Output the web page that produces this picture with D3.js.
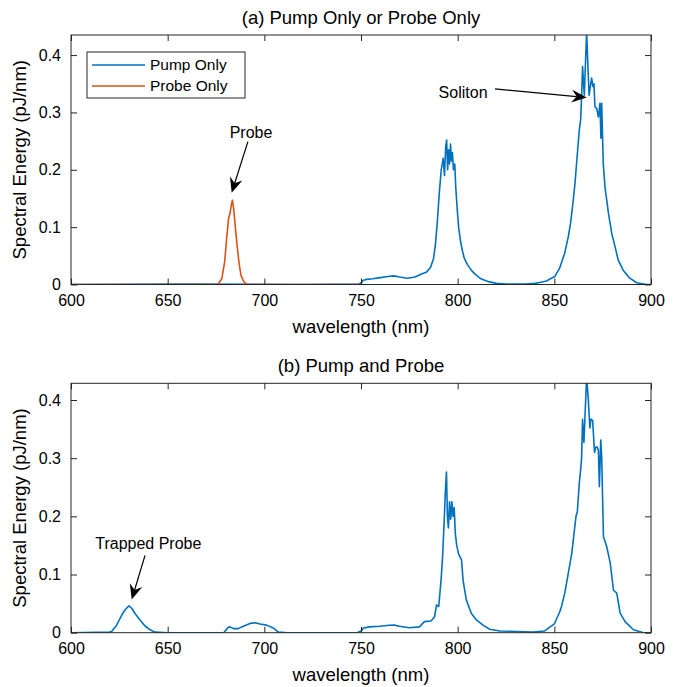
<!DOCTYPE html>
<html>
<head>
<meta charset="utf-8">
<script src="https://cdn.jsdelivr.net/npm/d3@7"></script>
<style>
  body { margin: 0; background: #fff; }
  svg text { font-family: "Liberation Sans", Arial, sans-serif; fill: #000; }
</style>
</head>
<body>
<div id="chart"></div>
<script>
const width = 682;
const height = 687;

// Axis ticks
const wavelengthTicks = [600, 650, 700, 750, 800, 850, 900];
const energyTicks = [0, 0.1, 0.2, 0.3, 0.4];

// (a) Pump only (blue)
const pumpOnlyWl = [600, 660, 720, 749, 750.5, 751, 753, 756, 760, 764, 767, 770, 774, 778, 781, 784, 786, 787.5, 788.5, 789.5,
  790.5, 791.5, 792.5, 793.2, 793.8, 794.3, 794.8, 795.3, 795.8, 796.3, 796.8, 797.3, 797.8, 798.5, 799, 799.8, 800.5,
  801.5, 802.5, 803.5, 805, 807, 809, 812, 816, 820, 825, 835, 840, 843, 846, 848, 850.3, 852.8, 855.4, 857.2, 858.4,
  859.8, 860.7, 861.5, 862.9, 863.6, 864.1, 864.6, 865.5, 866.7, 867.5, 868, 868.4, 869.3, 870, 870.5, 871, 871.9,
  872.8, 873.6, 874.1, 874.5, 875.3, 876.2, 877.1, 878, 879.7, 881.4, 883, 885.6, 889, 892.6, 897.8, 900];
const pumpOnlyE = [0, 0.001, 0, 0.001, 0.004, 0.007, 0.009, 0.01, 0.012, 0.014, 0.015, 0.013, 0.011, 0.013, 0.018, 0.022, 0.03, 0.045, 0.07, 0.11,
  0.16, 0.2, 0.22, 0.19, 0.24, 0.252, 0.2, 0.235, 0.21, 0.245, 0.215, 0.23, 0.2, 0.21, 0.17, 0.13, 0.1,
  0.075, 0.058, 0.045, 0.035, 0.025, 0.018, 0.01, 0.005, 0.002, 0.001, 0.001, 0.002, 0.004, 0.006, 0.01, 0.014, 0.029, 0.055, 0.083, 0.107,
  0.147, 0.177, 0.211, 0.269, 0.287, 0.327, 0.38, 0.33, 0.44, 0.37, 0.33, 0.34, 0.36, 0.345, 0.35, 0.31, 0.307,
  0.292, 0.316, 0.255, 0.316, 0.211, 0.17, 0.147, 0.124, 0.089, 0.066, 0.043, 0.025, 0.011, 0.003, 0, 0];

// (a) Probe only (orange)
const probeOnlyWl = [600, 676, 678, 679.5, 680.5, 681.5, 682.3, 683, 683.5, 684.2, 685, 686, 687, 688, 689.5, 691, 750];
const probeOnlyE = [0, 0, 0.01, 0.04, 0.08, 0.115, 0.125, 0.14, 0.147, 0.13, 0.1, 0.065, 0.035, 0.015, 0.004, 0, 0];

// (b) Pump and probe (blue)
const pumpProbeWl = [600, 620, 621, 623.6, 626.2, 627.9, 629, 630, 631.4, 633.1, 635.7, 638.3, 640.9, 643.4, 650, 679, 680,
  681.2, 682.2, 684, 686.5, 689.1, 692.6, 695.2, 697.8, 701.2, 704.7, 707.3, 712, 748, 750.5, 751, 754.3, 759.5, 764.7,
  767.2, 769.8, 775, 780.2, 782.8, 786.2, 788, 789.1, 790.2, 791.4, 792.2, 793, 793.6, 794.2, 794.7, 795.2, 795.8, 796.4,
  797, 797.6, 798.2, 798.8, 799.5, 800.5, 802, 802.8, 804.5, 807.1, 809.7, 813.1, 816.6, 821.8, 830.5, 839, 845, 850,
  852.8, 853.7, 855.4, 857.2, 859, 860.2, 861.2, 861.9, 862.9, 863.6, 864.1, 864.6, 865.3, 865.8, 866.7, 867.5, 868.4,
  868.9, 869.8, 870.8, 871.5, 872.2, 872.8, 873.3, 874, 874.5, 875.4, 877.1, 878.9, 880.6, 882.3, 884, 886.6, 890.9, 896.2, 900];
const pumpProbeE = [0, 0.001, 0.002, 0.013, 0.03, 0.039, 0.043, 0.046, 0.042, 0.033, 0.022, 0.0115, 0.005, 0.001, 0, 0, 0.004,
  0.009, 0.01, 0.007, 0.007, 0.011, 0.016, 0.017, 0.015, 0.013, 0.008, 0.001, 0, 0, 0.004, 0.0075, 0.01, 0.011, 0.0127,
  0.013, 0.011, 0.0086, 0.01, 0.019, 0.02, 0.027, 0.048, 0.045, 0.09, 0.13, 0.19, 0.24, 0.276, 0.2, 0.18, 0.225, 0.195,
  0.225, 0.2, 0.215, 0.17, 0.15, 0.135, 0.125, 0.09, 0.056, 0.033, 0.022, 0.013, 0.006, 0.003, 0.002, 0.001, 0.003, 0.015,
  0.036, 0.045, 0.068, 0.102, 0.136, 0.171, 0.2, 0.208, 0.257, 0.28, 0.3, 0.367, 0.327, 0.367, 0.44, 0.404, 0.352,
  0.367, 0.365, 0.31, 0.319, 0.319, 0.313, 0.251, 0.331, 0.302, 0.165, 0.148, 0.12, 0.073, 0.068, 0.034, 0.019, 0.005, 0, 0];

const blue = "#0072BD";
const orange = "#D95319";

const svg = d3.select("#chart")
  .append("svg")
  .attr("width", width)
  .attr("height", height);

function drawPanel(cfg) {
  const x = d3.scaleLinear().domain([600, 900]).range([cfg.left, cfg.right]);
  const y = d3.scaleLinear().domain([0, cfg.ymax]).range([cfg.bottom, cfg.top]);
  const g = svg.append("g");

  const clipId = "clip" + cfg.id;
  g.append("clipPath").attr("id", clipId)
    .append("rect")
    .attr("x", cfg.left).attr("y", cfg.top)
    .attr("width", cfg.right - cfg.left).attr("height", cfg.bottom - cfg.top);

  const line = d3.line().x(d => x(d[0])).y(d => y(d[1]));
  const plot = g.append("g").attr("clip-path", `url(#${clipId})`);
  cfg.series.forEach(s => {
    plot.append("path")
      .datum(s.wl.map((w, i) => [w, s.e[i]]))
      .attr("d", line)
      .attr("fill", "none")
      .attr("stroke", s.color)
      .attr("stroke-width", 1.6)
      .attr("stroke-linejoin", "round");
  });

  // axes (ticks inside, box on)
  const tl = 6;
  const axisStyle = sel => {
    sel.select(".domain").remove();
    sel.selectAll("line").attr("stroke", "#262626");
    sel.selectAll("text").style("font-size", "16px").attr("fill", "#000");
  };
  g.append("g").attr("transform", `translate(0,${cfg.bottom})`)
    .call(d3.axisBottom(x).tickValues(wavelengthTicks).tickSize(-tl).tickPadding(10).tickFormat(d3.format("d")))
    .call(axisStyle);
  g.append("g").attr("transform", `translate(0,${cfg.top})`)
    .call(d3.axisTop(x).tickValues(wavelengthTicks).tickSize(-tl).tickFormat(""))
    .call(axisStyle);
  g.append("g").attr("transform", `translate(${cfg.left},0)`)
    .call(d3.axisLeft(y).tickValues(energyTicks).tickSize(-tl).tickPadding(10).tickFormat(d => d === 0 ? "0" : d3.format(".1f")(d)))
    .call(axisStyle);
  g.append("g").attr("transform", `translate(${cfg.right},0)`)
    .call(d3.axisRight(y).tickValues(energyTicks).tickSize(-tl).tickFormat(""))
    .call(axisStyle);

  g.append("rect")
    .attr("x", cfg.left).attr("y", cfg.top)
    .attr("width", cfg.right - cfg.left).attr("height", cfg.bottom - cfg.top)
    .attr("fill", "none").attr("stroke", "#262626").attr("stroke-width", 1);

  // title and labels
  g.append("text")
    .attr("x", (cfg.left + cfg.right) / 2).attr("y", cfg.top - 11)
    .attr("text-anchor", "middle").style("font-size", "18.5px")
    .text(cfg.title);
  g.append("text")
    .attr("x", (cfg.left + cfg.right) / 2).attr("y", cfg.bottom + 48)
    .attr("text-anchor", "middle").style("font-size", "18.5px")
    .text("wavelength (nm)");
  g.append("text")
    .attr("transform", `translate(26,${(cfg.top + cfg.bottom) / 2}) rotate(-90)`)
    .attr("text-anchor", "middle").style("font-size", "18.5px")
    .text("Spectral Energy (pJ/nm)");

  // annotations with arrows
  cfg.notes.forEach(n => {
    g.append("text")
      .attr("x", x(n.textAt[0])).attr("y", y(n.textAt[1]))
      .attr("dy", "0.35em").attr("text-anchor", "middle")
      .style("font-size", "16px")
      .text(n.label);
    const x1 = x(n.from[0]), y1 = y(n.from[1]);
    const x2 = x(n.to[0]), y2 = y(n.to[1]);
    const ang = Math.atan2(y2 - y1, x2 - x1);
    const L = 15, W = 6.5, notch = 10;
    const bx = x2 - L * Math.cos(ang), by = y2 - L * Math.sin(ang);
    const nx = x2 - notch * Math.cos(ang), ny = y2 - notch * Math.sin(ang);
    const px = -Math.sin(ang) * W, py = Math.cos(ang) * W;
    g.append("line")
      .attr("x1", x1).attr("y1", y1).attr("x2", nx).attr("y2", ny)
      .attr("stroke", "#000").attr("stroke-width", 1.2);
    g.append("path")
      .attr("d", `M${x2},${y2}L${bx + px},${by + py}L${nx},${ny}L${bx - px},${by - py}Z`)
      .attr("fill", "#000");
  });

  // legend
  if (cfg.legend) {
    const lx = cfg.left + 16, ly = cfg.top + 17, lw = 158, lh = 46;
    const lg = g.append("g");
    lg.append("rect").attr("x", lx).attr("y", ly).attr("width", lw).attr("height", lh)
      .attr("fill", "#fff").attr("stroke", "#262626").attr("stroke-width", 1);
    cfg.legend.forEach((item, i) => {
      const yy = ly + 13 + i * 21;
      lg.append("line").attr("x1", lx + 5).attr("x2", lx + 58).attr("y1", yy).attr("y2", yy)
        .attr("stroke", item.color).attr("stroke-width", 1.6);
      lg.append("text").attr("x", lx + 63).attr("y", yy).attr("dy", "0.35em")
        .style("font-size", "15.5px").text(item.label);
    });
  }
}

drawPanel({
  id: "a",
  left: 71, right: 651, top: 35, bottom: 284.5,
  ymax: 0.435,
  title: "(a) Pump Only or Probe Only",
  series: [
    { wl: pumpOnlyWl, e: pumpOnlyE, color: blue },
    { wl: probeOnlyWl, e: probeOnlyE, color: orange }
  ],
  legend: [{ label: "Pump Only", color: blue }, { label: "Probe Only", color: orange }],
  notes: [
    { label: "Probe", textAt: [693.1, 0.266], from: [691.5, 0.249], to: [683.1, 0.16] },
    { label: "Soliton", textAt: [802.8, 0.335], from: [819.3, 0.341], to: [866.7, 0.326] }
  ]
});

drawPanel({
  id: "b",
  left: 71, right: 651, top: 383.3, bottom: 632.7,
  ymax: 0.4287,
  title: "(b) Pump and Probe",
  series: [{ wl: pumpProbeWl, e: pumpProbeE, color: blue }],
  legend: null,
  notes: [
    { label: "Trapped Probe", textAt: [640, 0.154], from: [638.3, 0.133], to: [631.4, 0.057] }
  ]
});
</script>
</body>
</html>
